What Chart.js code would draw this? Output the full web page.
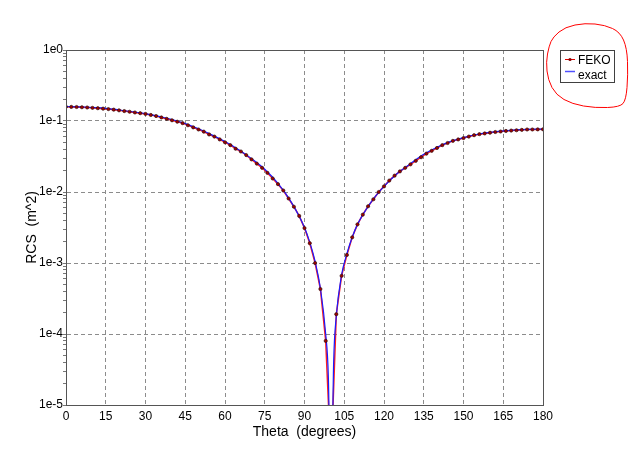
<!DOCTYPE html>
<html>
<head>
<meta charset="utf-8">
<script src="https://cdn.jsdelivr.net/npm/chart.js@4/dist/chart.umd.min.js"></script>
<style>
  html, body { margin: 0; padding: 0; background: #fff; }
  #wrap { position: relative; width: 631px; height: 461px; }
</style>
</head>
<body>
<div id="wrap"><canvas id="rcs" width="631" height="461"></canvas></div>
<script>
// FEKO samples, every 2 degrees
const thetaFeko = [
  0, 2, 4, 6, 8, 10, 12, 14, 16, 18,
  20, 22, 24, 26, 28, 30, 32, 34, 36, 38,
  40, 42, 44, 46, 48, 50, 52, 54, 56, 58,
  60, 62, 64, 66, 68, 70, 72, 74, 76, 78,
  80, 82, 84, 86, 88, 90, 92, 94, 96, 98,
  100, 102, 104, 106, 108, 110, 112, 114, 116, 118,
  120, 122, 124, 126, 128, 130, 132, 134, 136, 138,
  140, 142, 144, 146, 148, 150, 152, 154, 156, 158,
  160, 162, 164, 166, 168, 170, 172, 174, 176, 178,
  180
];
const rcsFeko = [
  0.1585, 0.1580, 0.1574, 0.1563, 0.1549, 0.1531, 0.1514, 0.1493, 0.1472, 0.1445,
  0.1413, 0.1380, 0.1349, 0.1318, 0.1288, 0.1259, 0.1216, 0.1175, 0.1122, 0.1072,
  0.1023, 0.0977, 0.0933, 0.0871, 0.0813, 0.0759, 0.0708, 0.0646, 0.0603, 0.0550,
  0.0501, 0.0457, 0.0407, 0.0372, 0.0331, 0.0288, 0.0251, 0.0219, 0.0186, 0.0155,
  0.0129, 0.0105, 0.0081, 0.0062, 0.0046, 0.0031, 0.0019, 0.0010, 0.00043, 0.00008,
  0.0000016, 0.00019, 0.00066, 0.0013, 0.0023, 0.0035, 0.0048, 0.0063, 0.0079, 0.0100,
  0.0120, 0.0145, 0.0170, 0.0195, 0.0219, 0.0245, 0.0275, 0.0309, 0.0347, 0.0380,
  0.0417, 0.0457, 0.0490, 0.0525, 0.0550, 0.0575, 0.0603, 0.0631, 0.0653, 0.0668,
  0.0684, 0.0700, 0.0711, 0.0724, 0.0733, 0.0741, 0.0750, 0.0759, 0.0759, 0.0762,
  0.0764
];

// exact solution
const thetaExact = [
  0, 5, 10, 15, 20, 25, 30, 35, 40, 45,
  50, 55, 60, 65, 70, 75, 80, 85, 90, 92,
  94, 96, 98, 99, 100, 101, 102, 104, 106, 108,
  110, 115, 120, 125, 130, 135, 140, 145, 150, 155,
  160, 165, 170, 175, 180
];
const rcsExact = [
  0.160, 0.158, 0.155, 0.151, 0.143, 0.135, 0.127, 0.116, 0.105, 0.092,
  0.0776, 0.0638, 0.0513, 0.0398, 0.0295, 0.0209, 0.0132, 0.0072, 0.00316, 0.00195,
  0.00105, 0.00044, 0.0001, 0.000025, 0.0000003, 0.00004, 0.000178, 0.00068, 0.00135, 0.0023,
  0.0035, 0.0071, 0.0120, 0.0182, 0.0251, 0.0339, 0.0427, 0.0513, 0.0582, 0.0646,
  0.0692, 0.0724, 0.0750, 0.0764, 0.0767
];

const xTicks = [0, 15, 30, 45, 60, 75, 90, 105, 120, 135, 150, 165, 180];
const yDecades = [1e-5, 1e-4, 1e-3, 1e-2, 1e-1, 1e0];
const yTickLabels = ['1e-5', '1e-4', '1e-3', '1e-2', '1e-1', '1e0'];

const FONT = 'Arial, "Liberation Sans", sans-serif';

function isDecade(v) {
  return yDecades.some(d => Math.abs(v / d - 1) < 1e-6);
}

// frame, legend and the red marker loop
const decorPlugin = {
  id: 'decor',
  afterDraw(chart) {
    const ctx = chart.ctx;
    const a = chart.chartArea;
    ctx.save();
    ctx.strokeStyle = '#555';
    ctx.lineWidth = 1;
    ctx.strokeRect(Math.round(a.left) + 0.5, Math.round(a.top) + 0.5,
      Math.round(a.right - a.left), Math.round(a.bottom - a.top));

    // legend
    ctx.fillStyle = '#fff';
    ctx.fillRect(561, 51, 53, 32);
    ctx.strokeStyle = '#404040';
    ctx.strokeRect(560.5, 50.5, 54, 32);
    ctx.strokeStyle = '#e00000';
    ctx.beginPath(); ctx.moveTo(565, 59.5); ctx.lineTo(575, 59.5); ctx.stroke();
    ctx.fillStyle = '#8b0000';
    ctx.beginPath(); ctx.arc(570, 59.5, 1.6, 0, Math.PI * 2); ctx.fill();
    ctx.strokeStyle = '#5050ff';
    ctx.lineWidth = 1.5;
    ctx.beginPath(); ctx.moveTo(565, 71.5); ctx.lineTo(575, 71.5); ctx.stroke();
    ctx.fillStyle = '#000';
    ctx.font = '12px ' + FONT;
    ctx.textBaseline = 'alphabetic';
    ctx.textAlign = 'left';
    ctx.fillText('FEKO', 578, 63.5);
    ctx.fillText('exact', 578, 78.5);

    // hand drawn loop
    const loop = [[553,37],[565,27],[585,23],[605,25],[620,32],[627,48],[628,75],[626,100],
      [620,107],[595,108],[572,104],[556,95],[548,80],[546,62],[549,46]];
    ctx.strokeStyle = '#ff0000';
    ctx.lineWidth = 1;
    ctx.beginPath();
    const n = loop.length;
    const mid = (p, q) => [(p[0] + q[0]) / 2, (p[1] + q[1]) / 2];
    let m0 = mid(loop[n - 1], loop[0]);
    ctx.moveTo(m0[0], m0[1]);
    for (let i = 0; i < n; i++) {
      const p = loop[i];
      const m = mid(p, loop[(i + 1) % n]);
      ctx.quadraticCurveTo(p[0], p[1], m[0], m[1]);
    }
    ctx.stroke();
    ctx.restore();
  }
};

const fekoPoints = thetaFeko.map((t, i) => ({ x: t, y: rcsFeko[i] }));

const ctx = document.getElementById('rcs').getContext('2d');
new Chart(ctx, {
  type: 'line',
  data: {
    datasets: [
      {
        // FEKO line, below the exact curve
        label: 'FEKO',
        data: fekoPoints,
        borderColor: '#ff2020',
        borderWidth: 1.5,
        pointRadius: 0,
        tension: 0,
        clip: 0,
        order: 3
      },
      {
        label: 'exact',
        data: thetaExact.map((t, i) => ({ x: t, y: rcsExact[i] })),
        borderColor: '#1a1aff',
        borderWidth: 1.2,
        pointRadius: 0,
        cubicInterpolationMode: 'monotone',
        clip: 0,
        order: 2
      },
      {
        // FEKO markers on top
        label: 'FEKO markers',
        data: fekoPoints,
        showLine: false,
        pointRadius: 1.6,
        pointBackgroundColor: '#a00000',
        pointBorderColor: '#301010',
        pointBorderWidth: 0.7,
        clip: 0,
        order: 1
      }
    ]
  },
  options: {
    responsive: false,
    animation: false,
    events: [],
    layout: { padding: { left: 20, right: 88, top: 50, bottom: 16 } },
    plugins: {
      legend: { display: false },
      tooltip: { enabled: false }
    },
    scales: {
      x: {
        type: 'linear',
        min: 0,
        max: 180,
        afterFit: s => { s.height = 40; },
        afterBuildTicks: s => { s.ticks = xTicks.map(v => ({ value: v })); },
        ticks: { autoSkip: false, maxRotation: 0, padding: 4, color: '#000', font: { family: FONT, size: 12 } },
        grid: {
          color: c => (c.tick && (c.tick.value === 0 || c.tick.value === 180)) ? 'rgba(0,0,0,0)' : '#8c8c8c',
          drawTicks: false
        },
        border: { display: true, color: '#555', width: 1, dash: [4, 3] },
        title: {
          display: true,
          text: 'Theta  (degrees)',
          color: '#000',
          font: { family: FONT, size: 14 },
          padding: { top: 0, bottom: 4 }
        }
      },
      y: {
        type: 'logarithmic',
        min: 1e-5,
        max: 1,
        afterFit: s => { s.width = 46; },
        afterBuildTicks: s => {
          const t = [];
          for (let i = 0; i < yDecades.length; i++) {
            const d = yDecades[i];
            t.push({ value: d });
            if (i < yDecades.length - 1) {
              for (let m = 2; m <= 9; m++) t.push({ value: d * m });
            }
          }
          s.ticks = t;
        },
        ticks: {
          autoSkip: false,
          padding: 0,
          color: '#000',
          font: { family: FONT, size: 12 },
          callback: v => {
            const i = yDecades.findIndex(d => Math.abs(v / d - 1) < 1e-6);
            return i >= 0 ? yTickLabels[i] : '';
          }
        },
        grid: {
          color: c => (c.tick && isDecade(c.tick.value) && c.tick.value > 1.5e-5 && c.tick.value < 0.9) ? '#8c8c8c' : 'rgba(0,0,0,0)',
          tickColor: '#777',
          tickLength: 3
        },
        border: { display: true, color: '#555', width: 1, dash: [4, 3] },
        title: {
          display: true,
          text: 'RCS  (m^2)',
          color: '#000',
          font: { family: FONT, size: 14 },
          padding: { top: 4, bottom: 0 }
        }
      }
    }
  },
  plugins: [decorPlugin]
});
</script>
</body>
</html>
